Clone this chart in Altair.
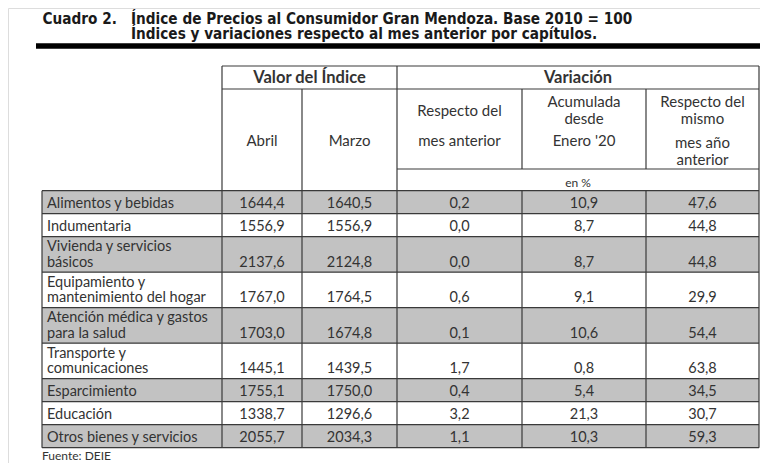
import altair as alt
import pandas as pd

# ---------------- data ----------------
title_number = "Cuadro 2."
title_line1 = "Índice de Precios al Consumidor Gran Mendoza. Base 2010 = 100"
title_line2 = "Índices y variaciones respecto al mes anterior por capítulos."
source_note = "Fuente: DEIE"

group_headers = ["Valor del Índice", "Variación"]
col_headers = [
    ["Abril"],
    ["Marzo"],
    ["Respecto del", "mes anterior"],
    ["Acumulada", "desde", "Enero '20"],
    ["Respecto del", "mismo", "mes año", "anterior"],
]
unit_label = "en %"

categories = [
    ["Alimentos y bebidas"],
    ["Indumentaria"],
    ["Vivienda y servicios", "básicos"],
    ["Equipamiento y", "mantenimiento del hogar"],
    ["Atención médica y gastos", "para la salud"],
    ["Transporte y", "comunicaciones"],
    ["Esparcimiento"],
    ["Educación"],
    ["Otros bienes y servicios"],
]
abril = [1644.4, 1556.9, 2137.6, 1767.0, 1703.0, 1445.1, 1755.1, 1338.7, 2055.7]
marzo = [1640.5, 1556.9, 2124.8, 1764.5, 1674.8, 1439.5, 1750.0, 1296.6, 2034.3]
var_mes = [0.2, 0.0, 0.0, 0.6, 0.1, 1.7, 0.4, 3.2, 1.1]
var_acum = [10.9, 8.7, 8.7, 9.1, 10.6, 0.8, 5.4, 21.3, 10.3]
var_anual = [47.6, 44.8, 44.8, 29.9, 54.4, 63.8, 34.5, 30.7, 59.3]

# ---------------- layout ----------------
W, H = 752, 455
XD = [8, 8 + W]
YD = [8, 8 + H]
label_left = 42
col_edges = [222, 302, 397, 522, 646, 759]
col_centers = [(col_edges[i] + col_edges[i + 1]) / 2 for i in range(5)]
top_y, group_bottom, unit_top, data_top = 66, 89, 169, 190.7
row_h = {1: 23.0, 2: 35.5}
line_gap = 15.3

TEXT_FONT = "Lato, Open Sans, sans-serif"
TITLE_FONT = "Liberation Sans Narrow, Arial Narrow, DejaVu Sans Condensed, sans-serif"
INK = "#333333"
LINE = "#3a3a3a"
GRAY = "#c2c2c2"

def fmt(v):
    return f"{v:.1f}".replace(".", ",")

# row boundaries
bounds = [data_top]
for c in categories:
    bounds.append(bounds[-1] + row_h[len(c)])
table_bottom = bounds[-1]

# ---- shaded rows
rect_rows = []
for i in range(len(categories)):
    if i % 2 == 0:
        rect_rows.append(dict(x=label_left, x2=col_edges[-1], y=bounds[i], y2=bounds[i + 1]))
rects = pd.DataFrame(rect_rows)

# ---- grid lines
segs = []
segs.append(dict(x=col_edges[0], x2=col_edges[-1], y=top_y, y2=top_y))
segs.append(dict(x=col_edges[0], x2=col_edges[-1], y=group_bottom, y2=group_bottom))
segs.append(dict(x=col_edges[2], x2=col_edges[-1], y=unit_top, y2=unit_top))
for b in bounds:
    segs.append(dict(x=label_left, x2=col_edges[-1], y=b, y2=b))
segs.append(dict(x=label_left, x2=label_left, y=data_top, y2=table_bottom))
for e in [col_edges[0], col_edges[2], col_edges[-1]]:
    segs.append(dict(x=e, x2=e, y=top_y, y2=table_bottom))
segs.append(dict(x=col_edges[1], x2=col_edges[1], y=group_bottom, y2=table_bottom))
for e in [col_edges[3], col_edges[4]]:
    segs.append(dict(x=e, x2=e, y=group_bottom, y2=unit_top))
    segs.append(dict(x=e, x2=e, y=data_top, y2=table_bottom))
lines = pd.DataFrame(segs)

thick = pd.DataFrame([dict(x=36, x2=760, y=46, y2=46)])

# ---- texts
title_df = pd.DataFrame([
    dict(x=42.5, y=23.5, t=title_number),
    dict(x=131, y=23.5, t=title_line1),
    dict(x=131, y=39, t=title_line2),
])

group_df = pd.DataFrame([
    dict(x=(col_edges[0] + col_edges[2]) / 2, y=78, t=group_headers[0]),
    dict(x=(col_edges[2] + col_edges[-1]) / 2, y=78, t=group_headers[1]),
])

head_y = [[141], [141], [111, 141], [102, 119, 141], [102, 119, 143, 160]]
head_rows = []
for ci, lines_ in enumerate(col_headers):
    for li, t in enumerate(lines_):
        head_rows.append(dict(x=col_centers[ci], y=head_y[ci][li], t=t))
head_df = pd.DataFrame(head_rows)

unit_df = pd.DataFrame([dict(x=(col_edges[2] + col_edges[-1]) / 2, y=183, t=unit_label)])

label_rows, val_rows = [], []
for i, c in enumerate(categories):
    last_y = bounds[i + 1] - 9.5
    n = len(c)
    for li, t in enumerate(c):
        label_rows.append(dict(x=label_left + 5, y=last_y - (n - 1 - li) * line_gap, t=t))
    for ci, series in enumerate([abril, marzo, var_mes, var_acum, var_anual]):
        val_rows.append(dict(x=col_centers[ci], y=last_y, t=fmt(series[i])))
label_df = pd.DataFrame(label_rows)
val_df = pd.DataFrame(val_rows)

src_df = pd.DataFrame([dict(x=42, y=455.5, t=source_note)])

# ---------------- chart ----------------
xs = alt.Scale(domain=XD, nice=False, zero=False)
ys = alt.Scale(domain=YD, nice=False, zero=False, reverse=True)

def X(f="x"):
    return alt.X(f"{f}:Q", scale=xs, axis=None)

def Y(f="y"):
    return alt.Y(f"{f}:Q", scale=ys, axis=None)

rect_layer = alt.Chart(rects).mark_rect(color=GRAY).encode(
    x=X(), x2="x2:Q", y=Y(), y2="y2:Q")

line_layer = alt.Chart(lines).mark_rule(color=LINE, strokeWidth=1.2).encode(
    x=X(), x2="x2:Q", y=Y(), y2="y2:Q")

thick_layer = alt.Chart(thick).mark_rule(color="#000000", strokeWidth=5.5).encode(
    x=X(), x2="x2:Q", y=Y(), y2="y2:Q")

def text_layer(df, font, size, weight="normal", align="center", baseline="middle", color=INK):
    return alt.Chart(df).mark_text(font=font, fontSize=size, fontWeight=weight,
                                   align=align, baseline=baseline, color=color).encode(
        x=X(), y=Y(), text="t:N")

chart = alt.layer(
    rect_layer,
    line_layer,
    thick_layer,
    text_layer(title_df, TITLE_FONT, 15.2, "bold", "left", "alphabetic", "#1a1a1a"),
    text_layer(group_df, TEXT_FONT, 16.5, "bold"),
    text_layer(head_df, TEXT_FONT, 15),
    text_layer(unit_df, TEXT_FONT, 12),
    text_layer(label_df, TEXT_FONT, 14.5, "normal", "left"),
    text_layer(val_df, TEXT_FONT, 14.5),
    text_layer(src_df, TEXT_FONT, 12, "normal", "left"),
).properties(
    width=W, height=H,
    autosize=alt.AutoSizeParams(type="none"),
    padding=0,
).configure_view(stroke=None).configure(background="#ffffff")

chart.save("out.html", embed_options={"renderer": "svg", "actions": False})
